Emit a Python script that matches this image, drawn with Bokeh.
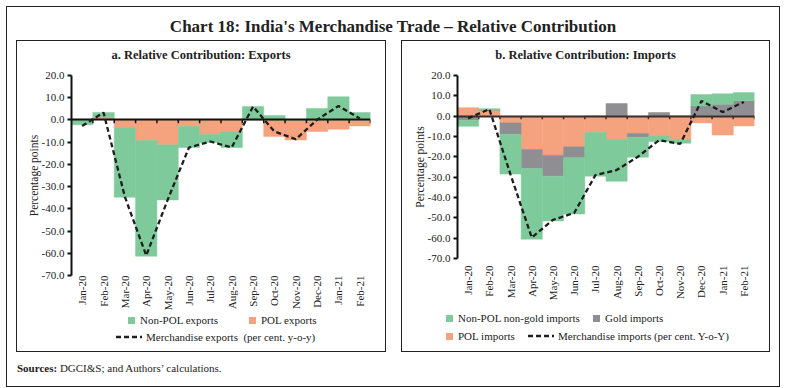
import numpy as np
from bokeh.plotting import figure
from bokeh.models import Range1d, FixedTicker, NumeralTickFormatter, Div, Spacer
from bokeh.layouts import column, row
from bokeh.embed import file_html
from bokeh.resources import INLINE

# ---------------- data ----------------
months = ["Jan-20", "Feb-20", "Mar-20", "Apr-20", "May-20", "Jun-20", "Jul-20",
          "Aug-20", "Sep-20", "Oct-20", "Nov-20", "Dec-20", "Jan-21", "Feb-21"]

exp_non_pol = [-2.2, 2.4, -31.5, -52.0, -24.8, -9.4, -3.7, -7.2, 6.0, 2.0, 0.0, 5.2, 10.4, 3.3]
exp_pol = [0.0, 1.0, -3.3, -9.3, -11.2, -3.0, -6.4, -5.2, 0.0, -7.5, -9.0, -5.2, -4.2, -2.7]
exp_total = [-2.7, 3.3, -34.6, -61.0, -36.0, -12.4, -9.7, -12.4, 6.0, -5.2, -8.7, 0.1, 6.3, 0.7]

imp_non_pol_gold = [-3.0, 0.7, -19.6, -34.8, -22.0, -27.6, -21.5, -20.6, -9.8, -2.7, -1.6, 5.6, 5.1, 4.0]
imp_gold = [-2.0, 0.0, -5.6, -9.3, -10.3, -5.4, 0.0, 6.2, -1.9, 1.8, 0.0, 5.0, 5.9, 7.6]
imp_pol = [4.2, 3.0, -3.3, -16.4, -19.2, -15.1, -8.0, -11.4, -8.5, -9.8, -11.7, -3.3, -9.3, -4.8]
imp_total = [-1.1, 3.5, -28.7, -59.7, -51.0, -47.6, -29.0, -26.5, -20.0, -11.8, -13.6, 7.5, 2.0, 7.0]

y_ticks = [-70, -60, -50, -40, -30, -20, -10, 0, 10, 20]

GREEN = "#7fca9b"
SALMON = "#f5a27f"
GRAY = "#8e8e93"
LINE = "#1e1e1e"
FONT = "Liberation Serif"
PANEL_H = 312


def stack(series):
    n = len(series[0])
    pos = np.zeros(n)
    neg = np.zeros(n)
    out = []
    for s in series:
        s = np.asarray(s, dtype=float)
        base = np.where(s >= 0, pos, neg)
        top = base + s
        pos = np.where(s >= 0, top, pos)
        neg = np.where(s < 0, top, neg)
        out.append((base, top))
    return out


def make_chart(series, total, w, left_b, chart_h, frame_h, label_standoff, zero_color):
    x = np.arange(len(months))
    p = figure(width=w, height=chart_h, x_range=Range1d(-0.5, len(months) - 0.5),
               y_range=Range1d(-70, 20), output_backend="svg", toolbar_location=None,
               min_border_left=left_b, min_border_right=16, min_border_top=7,
               min_border_bottom=chart_h - 7 - frame_h)
    p.border_fill_color = None
    p.outline_line_color = None
    p.grid.visible = False
    p.background_fill_color = "white"

    stacks = stack([s[1] for s in series])
    for (name, vals, color), (bot, top) in zip(series, stacks):
        p.vbar(x=x, width=1.0, bottom=bot, top=top, fill_color=color,
               line_color=color, line_width=0.5)

    p.hspan(y=[0], line_color=zero_color, line_width=2)
    bx = x + 0.5
    p.segment(x0=bx, y0=np.zeros(len(bx)), x1=bx, y1=np.full(len(bx), -1.5),
              line_color=zero_color, line_width=1.5)

    p.line(x, total, line_color=LINE, line_width=2.3, line_dash="5 3")

    xa = p.xaxis[0]
    xa.ticker = FixedTicker(ticks=list(x))
    xa.major_label_overrides = {int(i): m for i, m in zip(x, months)}
    xa.major_label_orientation = np.pi / 2
    xa.axis_line_color = None
    xa.major_tick_line_color = None
    xa.major_tick_out = 0
    xa.major_tick_in = 0
    xa.minor_tick_line_color = None
    xa.minor_tick_out = 0
    xa.major_label_text_font = FONT
    xa.major_label_text_font_size = "11px"
    xa.major_label_text_color = "#222"
    xa.major_label_standoff = label_standoff

    ya = p.yaxis[0]
    ya.ticker = FixedTicker(ticks=y_ticks)
    ya.formatter = NumeralTickFormatter(format="0.0")
    ya.axis_line_width = 2
    ya.axis_line_color = "#111"
    ya.major_tick_line_width = 2
    ya.major_tick_line_color = "#111"
    ya.major_tick_out = 4
    ya.major_tick_in = 0
    ya.minor_tick_line_color = None
    ya.major_label_text_font = FONT
    ya.major_label_text_font_size = "11px"
    ya.major_label_text_color = "#222"
    ya.major_label_standoff = 3
    ya.axis_label = "Percentage points"
    ya.axis_label_text_font = FONT
    ya.axis_label_text_font_size = "11.5px"
    ya.axis_label_text_font_style = "normal"
    ya.axis_label_text_color = "#222"
    ya.axis_label_standoff = -1
    return p


def subtitle(text, w):
    return Div(text=('<div style="width:%dpx;text-align:center;font-family:\'Liberation Serif\';'
                     'font-weight:bold;font-size:12.5px;color:#222;padding-top:7px;">%s</div>')
               % (w, text), width=w, height=28, margin=0)


def legend_div(w, h, items):
    # items: (label, kind, color, left, center_y)
    parts = []
    for label, kind, color, left, cy in items:
        if kind == "bar":
            glyph = ('<span style="display:inline-block;width:7px;height:7px;background:%s;'
                     'margin-right:5px;vertical-align:middle;position:relative;top:-1px"></span>'
                     % color)
        else:
            glyph = ('<svg width="26" height="6" style="vertical-align:middle;margin-right:4px;'
                     'position:relative;top:-1px"><line x1="0" y1="3" x2="26" y2="3" '
                     'stroke="%s" stroke-width="2.3" stroke-dasharray="5 3"/></svg>' % color)
        parts.append('<div style="position:absolute;left:%dpx;top:%dpx;height:14px;'
                     'line-height:14px;white-space:nowrap;">%s%s</div>'
                     % (left, cy - 7, glyph, label))
    html = ('<div style="position:relative;width:%dpx;height:%dpx;font-family:\'Liberation Serif\';'
            'font-size:11px;color:#222;">%s</div>' % (w, h, "".join(parts)))
    return Div(text=html, width=w, height=h, margin=0)


W1, W2 = 370, 369
c1 = make_chart([("POL exports", exp_pol, SALMON), ("Non-POL exports", exp_non_pol, GREEN)],
                exp_total, W1, 55, 245, 203, 0, "#111")
l1 = legend_div(W1, PANEL_H - 28 - 245,
                [("Non-POL exports", "bar", GREEN, 112, 7),
                 ("POL exports", "bar", SALMON, 233, 7),
                 ("Merchandise exports&nbsp; (per cent. y-o-y)", "line", LINE, 100, 24)])

c2 = make_chart([("POL imports", imp_pol, SALMON), ("Gold imports", imp_gold, GRAY),
                 ("Non-POL non-gold imports", imp_non_pol_gold, GREEN)],
                imp_total, W2, 56, 235, 185, 7, "#3b302c")
l2 = legend_div(W2, PANEL_H - 28 - 235,
                [("Non-POL non-gold imports", "bar", GREEN, 45, 15),
                 ("Gold imports", "bar", GRAY, 192, 15),
                 ("POL imports", "bar", SALMON, 45, 33),
                 ("Merchandise imports (per cent. Y-o-Y)", "line", LINE, 127, 33)])

box = {"outline": "1px solid #222", "outline-offset": "-1px"}
panel1 = column(subtitle("a. Relative Contribution: Exports", W1), c1, l1, styles=box)
panel2 = column(subtitle("b. Relative Contribution: Imports", W2), c2, l2, styles=box)

TOTAL_W = 10 + W1 + 15 + W2 + 10
title = Div(text=('<div style="width:%dpx;text-align:center;font-family:\'Liberation Serif\';'
                  'font-weight:bold;font-size:17px;color:#222;padding-top:9px;">'
                  "Chart 18: India's Merchandise Trade \u2013 Relative Contribution</div>") % TOTAL_W,
            width=TOTAL_W, height=34, margin=0)
sources = Div(text='<div style="font-family:\'Liberation Serif\';font-size:11px;color:#222;'
                   'padding-left:11px;padding-top:9px;"><b>Sources:</b> DGCI&amp;S; and '
                   "Authors\u2019 calculations.</div>",
              width=TOTAL_W, height=35, margin=0)

panels = row(Spacer(width=10, height=PANEL_H, sizing_mode="fixed"), panel1,
             Spacer(width=15, height=PANEL_H, sizing_mode="fixed"), panel2,
             Spacer(width=10, height=PANEL_H, sizing_mode="fixed"))

chart = column(title, panels, sources, styles=box)
layout = row(Spacer(width=6, height=381, sizing_mode="fixed"),
             column(Spacer(width=TOTAL_W, height=6, sizing_mode="fixed"), chart))

open("out.html", "w").write(file_html(layout, INLINE))
